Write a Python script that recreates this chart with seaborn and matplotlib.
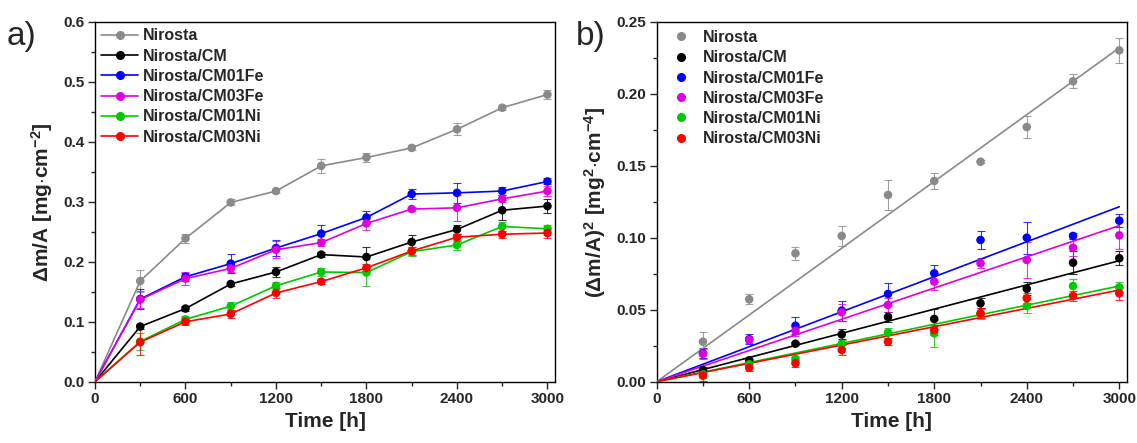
import numpy as np
import pandas as pd
import matplotlib
matplotlib.use("Agg")
import matplotlib.pyplot as plt
from matplotlib.lines import Line2D
from matplotlib.ticker import MultipleLocator
import seaborn as sns

# ---------------- data ----------------
time_h = [0, 300, 600, 900, 1200, 1500, 1800, 2100, 2400, 2700, 3000]
samples = ["Nirosta", "Nirosta/CM", "Nirosta/CM01Fe", "Nirosta/CM03Fe",
           "Nirosta/CM01Ni", "Nirosta/CM03Ni"]
colors = ["#8a8a8a", "#000000", "#0000ff", "#dd00dd", "#00c800", "#ff0000"]

# panel a) mass gain  dm/A [mg/cm2]
dm_nirosta = [0, 0.168, 0.239, 0.299, 0.318, 0.360, 0.374, 0.390, 0.421, 0.457, 0.479]
dm_cm      = [0, 0.092, 0.122, 0.163, 0.183, 0.212, 0.208, 0.233, 0.254, 0.286, 0.293]
dm_cm01fe  = [0, 0.138, 0.175, 0.197, 0.223, 0.247, 0.274, 0.313, 0.315, 0.318, 0.334]
dm_cm03fe  = [0, 0.137, 0.172, 0.189, 0.220, 0.232, 0.264, 0.288, 0.290, 0.305, 0.318]
dm_cm01ni  = [0, 0.067, 0.104, 0.126, 0.160, 0.183, 0.182, 0.217, 0.228, 0.259, 0.255]
dm_cm03ni  = [0, 0.066, 0.100, 0.113, 0.148, 0.167, 0.190, 0.218, 0.241, 0.246, 0.248]

err_nirosta = [0, 0.019, 0.007, 0.005, 0.004, 0.012, 0.007, 0.004, 0.010, 0.004, 0.008]
err_cm      = [0, 0.004, 0.004, 0.004, 0.008, 0.004, 0.017, 0.011, 0.008, 0.017, 0.011]
err_cm01fe  = [0, 0.017, 0.007, 0.016, 0.014, 0.014, 0.010, 0.008, 0.017, 0.007, 0.005]
err_cm03fe  = [0, 0.014, 0.011, 0.006, 0.014, 0.006, 0.011, 0.004, 0.022, 0.006, 0.008]
err_cm01ni  = [0, 0.014, 0.006, 0.007, 0.006, 0.006, 0.022, 0.007, 0.008, 0.008, 0.006]
err_cm03ni  = [0, 0.022, 0.006, 0.006, 0.008, 0.004, 0.006, 0.006, 0.006, 0.006, 0.008]

# panel b) squared mass gain (dm/A)^2 [mg2/cm4]
sq_nirosta = [0, 0.0278, 0.0573, 0.0892, 0.1013, 0.1298, 0.1395, 0.1529, 0.1770, 0.2088, 0.2303]
sq_cm      = [0, 0.0081, 0.0149, 0.0264, 0.0329, 0.0450, 0.0436, 0.0545, 0.0646, 0.0827, 0.0858]
sq_cm01fe  = [0, 0.0197, 0.0295, 0.0389, 0.0494, 0.0610, 0.0753, 0.0985, 0.1001, 0.1013, 0.1119]
sq_cm03fe  = [0, 0.0193, 0.0290, 0.0355, 0.0482, 0.0533, 0.0695, 0.0823, 0.0846, 0.0931, 0.1017]
sq_cm01ni  = [0, 0.0051, 0.0121, 0.0158, 0.0262, 0.0341, 0.0336, 0.0471, 0.0526, 0.0665, 0.0656]
sq_cm03ni  = [0, 0.0042, 0.0097, 0.0128, 0.0220, 0.0278, 0.0359, 0.0475, 0.0580, 0.0596, 0.0614]

sqerr_nirosta = [0, 0.0070, 0.0035, 0.0046, 0.0070, 0.0104, 0.0058, 0.0010, 0.0076, 0.0050, 0.0086]
sqerr_cm      = [0, 0.0019, 0.0012, 0.0012, 0.0035, 0.0035, 0.0070, 0.0035, 0.0046, 0.0081, 0.0050]
sqerr_cm01fe  = [0, 0.0035, 0.0035, 0.0058, 0.0070, 0.0076, 0.0058, 0.0065, 0.0110, 0.0023, 0.0046]
sqerr_cm03fe  = [0, 0.0035, 0.0023, 0.0035, 0.0058, 0.0046, 0.0058, 0.0035, 0.0127, 0.0058, 0.0093]
sqerr_cm01ni  = [0, 0.0023, 0.0019, 0.0023, 0.0028, 0.0035, 0.0093, 0.0035, 0.0046, 0.0046, 0.0035]
sqerr_cm03ni  = [0, 0.0035, 0.0023, 0.0023, 0.0035, 0.0023, 0.0035, 0.0035, 0.0035, 0.0035, 0.0046]

# linear (parabolic-law) fits through origin: fitted value at t = 3000 h
fit_time = [0, 3000]
fit_at_3000 = [0.2320, 0.0841, 0.1216, 0.1085, 0.0665, 0.0637]

dm_all = [dm_nirosta, dm_cm, dm_cm01fe, dm_cm03fe, dm_cm01ni, dm_cm03ni]
err_all = [err_nirosta, err_cm, err_cm01fe, err_cm03fe, err_cm01ni, err_cm03ni]
sq_all = [sq_nirosta, sq_cm, sq_cm01fe, sq_cm03fe, sq_cm01ni, sq_cm03ni]
sqerr_all = [sqerr_nirosta, sqerr_cm, sqerr_cm01fe, sqerr_cm03fe, sqerr_cm01ni, sqerr_cm03ni]

rows = []
for s, dm, e, sq, se in zip(samples, dm_all, err_all, sq_all, sqerr_all):
    for t, a, b, c, d in zip(time_h, dm, e, sq, se):
        rows.append(dict(sample=s, time=t, dm=a, err=b, sq=c, sqerr=d))
df = pd.DataFrame(rows)
df_pts = df[df["time"] > 0]
fit_rows = []
for s, v in zip(samples, fit_at_3000):
    for t in fit_time:
        fit_rows.append(dict(sample=s, time=t, fit=v * t / 3000.0))
df_fit = pd.DataFrame(fit_rows)
palette = dict(zip(samples, colors))

# ---------------- style ----------------
sns.set_theme(style="ticks")
plt.rcParams["font.family"] = ["Liberation Sans", "DejaVu Sans"]
plt.rcParams["mathtext.fontset"] = "custom"
plt.rcParams["mathtext.rm"] = "Liberation Sans:bold"
plt.rcParams["mathtext.bf"] = "Liberation Sans:bold"
plt.rcParams["mathtext.it"] = "Liberation Sans:bold"
plt.rcParams["axes.linewidth"] = 1.0

fig = plt.figure(figsize=(11.37, 4.43), dpi=100)
ax1 = fig.add_axes([95 / 1137, 1 - 381.7 / 443, 460 / 1137, 359.7 / 443])
ax2 = fig.add_axes([656.7 / 1137, 1 - 381.7 / 443, 470.3 / 1137, 359.7 / 443])

MS = 5.4
# ---- panel a ----
for s, c in zip(samples, colors):
    dp = df_pts[df_pts["sample"] == s]
    ax1.errorbar(dp["time"], dp["dm"], yerr=dp["err"], fmt="none", ecolor=c,
                 elinewidth=0.8, capsize=3, capthick=0.8, alpha=0.8, zorder=2)
sns.lineplot(data=df, x="time", y="dm", hue="sample", palette=palette,
             hue_order=samples, linewidth=1.2, ax=ax1, legend=False, zorder=3)
sns.scatterplot(data=df_pts, x="time", y="dm", hue="sample", palette=palette,
                hue_order=samples, s=MS ** 2 * 1.3, linewidth=0, ax=ax1,
                legend=False, zorder=4)

# ---- panel b ----
for s, c in zip(samples, colors):
    dp = df_pts[df_pts["sample"] == s]
    ax2.errorbar(dp["time"], dp["sq"], yerr=dp["sqerr"], fmt="none", ecolor=c,
                 elinewidth=0.8, capsize=3, capthick=0.8, alpha=0.8, zorder=2)
sns.lineplot(data=df_fit, x="time", y="fit", hue="sample", palette=palette,
             hue_order=samples, linewidth=1.2, ax=ax2, legend=False, zorder=3)
sns.scatterplot(data=df_pts, x="time", y="sq", hue="sample", palette=palette,
                hue_order=samples, s=MS ** 2 * 1.3, linewidth=0, ax=ax2,
                legend=False, zorder=4)

# ---- axes cosmetics ----
for ax, ymax, ymaj, ymin, fmt in [(ax1, 0.6, 0.1, 0.05, "{:.1f}"),
                                   (ax2, 0.25, 0.05, 0.025, "{:.2f}")]:
    ax.set_xlim(0, 3050)
    ax.set_ylim(0, ymax)
    ax.xaxis.set_major_locator(MultipleLocator(600))
    ax.xaxis.set_minor_locator(MultipleLocator(300))
    ax.yaxis.set_major_locator(MultipleLocator(ymaj))
    ax.yaxis.set_minor_locator(MultipleLocator(ymin))
    ax.tick_params(which="major", direction="out", length=5, width=1.0,
                   labelsize=11, pad=2.5, top=False, right=False)
    ax.tick_params(which="minor", direction="out", length=3, width=1.0,
                   top=False, right=False)
    ax.yaxis.set_major_formatter(matplotlib.ticker.FuncFormatter(
        lambda v, p, f=fmt: f.format(v)))
    ax.xaxis.set_major_formatter(matplotlib.ticker.FuncFormatter(
        lambda v, p: "{:d}".format(int(round(v)))))
    for sp in ax.spines.values():
        sp.set_visible(True)
        sp.set_linewidth(1.0)
        sp.set_color("black")
    ax.set_xlabel("Time [h]", fontsize=15, fontweight="bold", labelpad=4)
    for lab in ax.get_xticklabels() + ax.get_yticklabels():
        lab.set_fontweight("bold")

ax1.set_ylabel(r"$\Delta$m/A [mg$\cdot$cm$^{-2}$]", fontsize=15,
               fontweight="bold", labelpad=6)
ax2.set_ylabel(r"($\Delta$m/A)$^2$ [mg$^2$$\cdot$cm$^{-4}$]", fontsize=15,
               fontweight="bold", labelpad=6)

fig.text(7 / 1137, 1 - 37 / 443, "a)", fontsize=24, va="center", ha="left")
fig.text(576 / 1137, 1 - 37 / 443, "b)", fontsize=24, va="center", ha="left")

# ---- legends ----
h1 = [Line2D([0], [0], color=c, lw=1.2, marker="o", markersize=5.5) for c in colors]
ax1.legend(h1, samples, loc="upper left", bbox_to_anchor=(0.0, 1.0),
           frameon=False, prop=dict(weight="bold", size=11.5),
           handlelength=2.3, handletextpad=0.3, labelspacing=0.33,
           borderpad=0.4, borderaxespad=0.0)
h2 = [Line2D([0], [0], color=c, lw=0, marker="o", markersize=5.5) for c in colors]
ax2.legend(h2, samples, loc="upper left", bbox_to_anchor=(0.0, 1.0),
           frameon=False, prop=dict(weight="bold", size=11.5),
           handlelength=2.1, handletextpad=0.3, labelspacing=0.33,
           borderpad=0.5, borderaxespad=0.0)

fig.savefig("out.png", dpi=100)
